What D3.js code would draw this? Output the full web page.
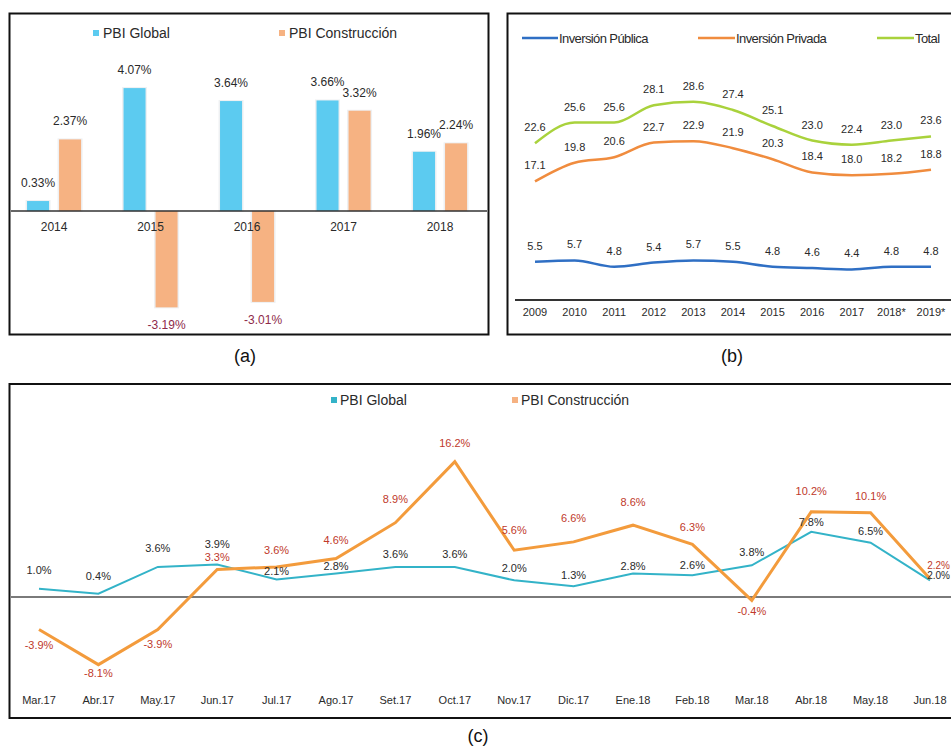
<!DOCTYPE html>
<html><head><meta charset="utf-8">
<script src="https://cdn.jsdelivr.net/npm/d3@7"></script>
<style>
html,body{margin:0;padding:0;background:#fff;}
svg{display:block;}
text{font-family:"Liberation Sans",Arial,sans-serif;}
</style></head>
<body>
<svg id="c" width="951" height="749"></svg>
<script>
// ---------- DATA ----------
// Panel (a)
const yearsA = ["2014","2015","2016","2017","2018"];
const pbiGlobalA = [0.33, 4.07, 3.64, 3.66, 1.96];
const pbiConstA = [2.37, -3.19, -3.01, 3.32, 2.24];
const seriesA = ["PBI Global","PBI Construcción"];
// Panel (b)
const yearsB = ["2009","2010","2011","2012","2013","2014","2015","2016","2017","2018*","2019*"];
const invPublica = [5.5, 5.7, 4.8, 5.4, 5.7, 5.5, 4.8, 4.6, 4.4, 4.8, 4.8];
const invPrivada = [17.1, 19.8, 20.6, 22.7, 22.9, 21.9, 20.3, 18.4, 18.0, 18.2, 18.8];
const invTotal = [22.6, 25.6, 25.6, 28.1, 28.6, 27.4, 25.1, 23.0, 22.4, 23.0, 23.6];
const seriesB = ["Inversión Pública","Inversión Privada","Total"];
// Panel (c)
const monthsC = ["Mar.17","Abr.17","May.17","Jun.17","Jul.17","Ago.17","Set.17","Oct.17","Nov.17","Dic.17","Ene.18","Feb.18","Mar.18","Abr.18","May.18","Jun.18"];
const pbiGlobalC = [1.0, 0.4, 3.6, 3.9, 2.1, 2.8, 3.6, 3.6, 2.0, 1.3, 2.8, 2.6, 3.8, 7.8, 6.5, 2.0];
const pbiConstC = [-3.9, -8.1, -3.9, 3.3, 3.6, 4.6, 8.9, 16.2, 5.6, 6.6, 8.6, 6.3, -0.4, 10.2, 10.1, 2.2];
const seriesC = ["PBI Global","PBI Construcción"];

// ---------- LAYOUT (label placement, not data) ----------
const offGlobalC = [[0,-19],[0,-18],[0,-19],[0,-20],[0,-8],[0,-8],[0,-13],[0,-13],[0,-12],[0,-11],[0,-8],[0,-10],[0,-13],[0,-10],[0,-12],[20,-5]];
const offConstC = [[0,15],[0,8],[0,14],[0,-12],[0,-17],[0,-19],[0,-24],[0,-19],[0,-20],[0,-24],[0,-23],[0,-17],[0,11],[0,-21],[0,-17],[20,-14]];

const fmt = (f)=>(v)=>d3.format(f)(v).replace("\u2212","-");

const svg = d3.select("#c");
svg.append("rect").attr("width",951).attr("height",749).attr("fill","#fff");

const cBlueBar = "#5ccbf0", cOrangeBar = "#f6b282";
const cTextDark = "#2a2a2a", cNeg = "#8e2a4a";

// ================= PANEL (a) =================
(function(){
  const g = svg.append("g");
  g.append("rect").attr("x",9.5).attr("y",13.5).attr("width",479).attr("height",321)
    .attr("fill","#fff").attr("stroke","#111").attr("stroke-width",2);
  const x0 = d3.scaleBand().domain(yearsA).range([11.6,482.5]).paddingInner(0.44).paddingOuter(0.16);
  const x1 = d3.scaleBand().domain(seriesA).range([0,x0.bandwidth()]).paddingInner(0.3125);
  const y = d3.scaleLinear().domain([-4,5]).range([211+4*30.2, 211-5*30.2]);
  const colors = d3.scaleOrdinal().domain(seriesA).range([cBlueBar,cOrangeBar]);
  const rows = [];
  yearsA.forEach((yr,i)=>{
    rows.push({yr, s:seriesA[0], v:pbiGlobalA[i]});
    rows.push({yr, s:seriesA[1], v:pbiConstA[i]});
  });
  g.selectAll("rect.glow").data(rows).join("rect").attr("class","glow")
    .attr("x",d=>x0(d.yr)+x1(d.s)-1.5).attr("width",x1.bandwidth()+3)
    .attr("y",d=>Math.min(y(d.v),y(0))-1).attr("height",d=>Math.abs(y(d.v)-y(0))+2)
    .attr("fill","#eef0f2");
  g.selectAll("rect.bar").data(rows).join("rect").attr("class","bar")
    .attr("x",d=>x0(d.yr)+x1(d.s)).attr("width",x1.bandwidth())
    .attr("y",d=>Math.min(y(d.v),y(0))).attr("height",d=>Math.abs(y(d.v)-y(0)))
    .attr("fill",d=>colors(d.s));
  g.append("line").attr("x1",11).attr("x2",487).attr("y1",y(0)).attr("y2",y(0))
    .attr("stroke","#333").attr("stroke-width",1.5);
  g.selectAll("text.val").data(rows).join("text").attr("class","val")
    .attr("x",d=>x0(d.yr)+x1(d.s)+x1.bandwidth()/2)
    .attr("y",d=>d.v>=0 ? y(d.v)-14 : y(d.v)+22)
    .attr("text-anchor","middle").attr("font-size",12)
    .attr("fill",d=>d.v>=0?cTextDark:cNeg)
    .text(d=>fmt(".2f")(d.v)+"%");
  g.selectAll("text.yr").data(yearsA).join("text").attr("class","yr")
    .attr("x",d=>x0(d)+x0.bandwidth()/2).attr("y",231)
    .attr("text-anchor","middle").attr("font-size",12).attr("fill",cTextDark).text(d=>d);
  const lg = [{s:seriesA[0],x:93},{s:seriesA[1],x:279}];
  lg.forEach(l=>{
    g.append("rect").attr("x",l.x).attr("y",30).attr("width",6).attr("height",6).attr("fill",colors(l.s));
    g.append("text").attr("x",l.x+10).attr("y",38).attr("font-size",14).attr("fill",cTextDark).text(l.s);
  });
  svg.append("text").attr("x",245).attr("y",362).attr("text-anchor","middle")
    .attr("font-family","'Open Sans',sans-serif").attr("font-size",18).attr("fill","#111").text("(a)");
})();

// ================= PANEL (b) =================
(function(){
  const g = svg.append("g");
  g.append("rect").attr("x",507.5).attr("y",13.5).attr("width",470).attr("height",321)
    .attr("fill","#fff").attr("stroke","#111").attr("stroke-width",2);
  const x = d3.scalePoint().domain(yearsB).range([535,931]);
  const y = d3.scaleLinear().domain([0,30]).range([300,92]);
  g.append("line").attr("x1",515).attr("x2",951).attr("y1",300).attr("y2",300)
    .attr("stroke","#333").attr("stroke-width",2);
  g.selectAll("text.yr").data(yearsB).join("text").attr("class","yr")
    .attr("x",d=>x(d)).attr("y",316).attr("text-anchor","middle").attr("font-size",11)
    .attr("fill",cTextDark).text(d=>d);
  const sers = [
    {name:seriesB[0], vals:invPublica, color:"#2f6fc4"},
    {name:seriesB[1], vals:invPrivada, color:"#f08c3e"},
    {name:seriesB[2], vals:invTotal, color:"#a9d23c"}
  ];
  const line = d3.line().x((d,i)=>x(yearsB[i])).y(d=>y(d)).curve(d3.curveMonotoneX);
  sers.forEach(s=>{
    g.append("path").attr("d",line(s.vals)).attr("fill","none").attr("stroke",s.color)
      .attr("stroke-width",2.5);
    g.selectAll(null).data(s.vals).join("text")
      .attr("x",(d,i)=>x(yearsB[i])).attr("y",d=>y(d)-12)
      .attr("text-anchor","middle").attr("font-size",11).attr("fill",cTextDark)
      .text(d=>fmt(".1f")(d));
  });
  const lg = [{i:0,x1:522,x2:558},{i:1,x1:698,x2:735},{i:2,x1:877,x2:914}];
  lg.forEach(l=>{
    const s = sers[l.i];
    g.append("line").attr("x1",l.x1).attr("x2",l.x2).attr("y1",38).attr("y2",38)
      .attr("stroke",s.color).attr("stroke-width",2.5);
    g.append("text").attr("x",l.x2+1).attr("y",43).attr("font-size",13)
      .attr("letter-spacing","-0.6").attr("fill",cTextDark).text(s.name);
  });
  svg.append("text").attr("x",732).attr("y",362).attr("text-anchor","middle")
    .attr("font-family","'Open Sans',sans-serif").attr("font-size",18).attr("fill","#111").text("(b)");
})();

// ================= PANEL (c) =================
(function(){
  const g = svg.append("g");
  g.append("rect").attr("x",9.5).attr("y",384).attr("width",970).attr("height",334)
    .attr("fill","#fff").attr("stroke","#111").attr("stroke-width",2);
  const x = d3.scalePoint().domain(monthsC).range([39,930]);
  const y = d3.scaleLinear().domain([-10,20]).range([597+10*8.35, 597-20*8.35]);
  g.append("line").attr("x1",11).attr("x2",951).attr("y1",y(0)).attr("y2",y(0))
    .attr("stroke","#7a7a7a").attr("stroke-width",2);
  g.selectAll("text.mo").data(monthsC).join("text").attr("class","mo")
    .attr("x",d=>x(d)).attr("y",704).attr("text-anchor","middle").attr("font-size",11)
    .attr("fill",cTextDark).text(d=>d);
  const line = d3.line().x((d,i)=>x(monthsC[i])).y(d=>y(d));
  g.append("path").attr("d",line(pbiGlobalC)).attr("fill","none").attr("stroke","#33b3c8").attr("stroke-width",2);
  g.append("path").attr("d",line(pbiConstC)).attr("fill","none").attr("stroke","#f39b3c").attr("stroke-width",3);
  const last = monthsC.length-1;
  g.selectAll("text.gl").data(pbiGlobalC).join("text").attr("class","gl")
    .attr("x",(d,i)=>i===last ? 950 : x(monthsC[i])+offGlobalC[i][0])
    .attr("y",(d,i)=>y(d)+offGlobalC[i][1]+4)
    .attr("text-anchor",(d,i)=>i===last?"end":"middle").attr("font-size",(d,i)=>i===last?10:11)
    .attr("fill",cTextDark)
    .text(d=>fmt(".1f")(d)+"%");
  g.selectAll("text.co").data(pbiConstC).join("text").attr("class","co")
    .attr("x",(d,i)=>i===last ? 950 : x(monthsC[i])+offConstC[i][0])
    .attr("y",(d,i)=>y(d)+offConstC[i][1]+4)
    .attr("text-anchor",(d,i)=>i===last?"end":"middle").attr("font-size",(d,i)=>i===last?10:11)
    .attr("fill","#c0392b")
    .text(d=>fmt(".1f")(d)+"%");
  const lg = [{s:seriesC[0],x:331,c:"#33b3c8"},{s:seriesC[1],x:512,c:"#f6b282"}];
  lg.forEach(l=>{
    g.append("rect").attr("x",l.x).attr("y",397).attr("width",6).attr("height",6).attr("fill",l.c);
    g.append("text").attr("x",l.x+9).attr("y",405).attr("font-size",14).attr("fill",cTextDark).text(l.s);
  });
  svg.append("text").attr("x",478).attr("y",742).attr("text-anchor","middle")
    .attr("font-family","'Open Sans',sans-serif").attr("font-size",18).attr("fill","#111").text("(c)");
})();
</script>
</body></html>
